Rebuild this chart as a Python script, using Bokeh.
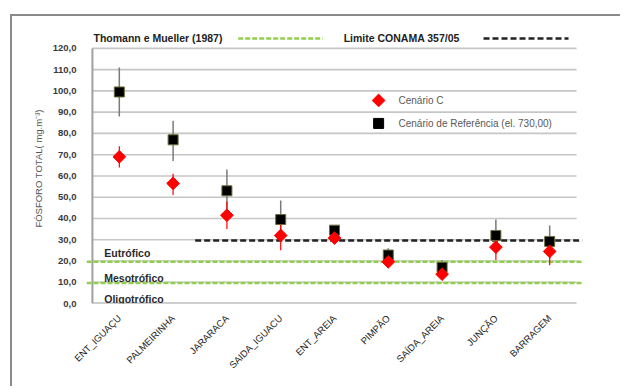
from math import pi

from bokeh.plotting import figure
from bokeh.models import FixedTicker, Range1d
from bokeh.core.properties import value
from bokeh.embed import file_html
from bokeh.resources import INLINE

# Sampling stations along the reservoir
stations = ["ENT_IGUAÇU", "PALMEIRINHA", "JARARACA", "SAIDA_IGUACU", "ENT_AREIA",
            "PIMPÃO", "SAÍDA_AREIA", "JUNÇÃO", "BARRAGEM"]

# Total phosphorus (mg.m-3): reference scenario (el. 730,00)
ref_mean = [99.5, 77.0, 53.0, 39.5, 34.5, 22.8, 17.0, 32.0, 29.2]
ref_low = [88.0, 67.0, 44.0, 31.0, 33.0, 20.0, 15.0, 24.0, 21.0]
ref_high = [111.0, 86.0, 63.0, 48.5, 36.0, 26.0, 20.5, 39.5, 36.7]

# Total phosphorus (mg.m-3): scenario C
c_mean = [69.0, 56.5, 41.5, 32.0, 30.8, 19.6, 13.8, 26.5, 24.5]
c_low = [64.0, 51.0, 35.0, 25.0, 30.0, 18.5, 12.5, 20.5, 18.0]
c_high = [74.0, 61.0, 48.0, 38.0, 32.0, 21.0, 15.0, 32.0, 29.0]

# Trophic thresholds (Thomann e Mueller, 1987) and CONAMA 357/05 limit
trophic_limits = [10.0, 20.0]
conama_limit = 30.0
trophic_names = ["Eutrófico", "Mesotrófico", "Oligotrófico"]
trophic_label_y = [23.7, 11.8, 1.9]

y_ticks = [0, 10, 20, 30, 40, 50, 60, 70, 80, 90, 100, 110, 120]

FONT = "Liberation Sans"
GRID = "#c6c6c6"
GREEN = "#92cf50"

xs = [i + 0.5 for i in range(len(stations))]

p = figure(width=610, height=372, output_backend="svg", toolbar_location=None,
           x_range=Range1d(-0.11, 9.11), y_range=Range1d(0, 127),
           min_border_left=74, min_border_right=40, min_border_top=17,
           min_border_bottom=85)
p.margin = (14, 0, 0, 10)
p.styles = {"border-left": "2px solid #8a8a8a", "border-top": "2px solid #8a8a8a"}
p.outline_line_color = None
p.xgrid.visible = False
p.ygrid.visible = False

# y axis
p.yaxis.ticker = FixedTicker(ticks=y_ticks)
p.yaxis.major_label_overrides = {t: f"{t:.1f}".replace(".", ",") for t in y_ticks}
p.yaxis.axis_line_color = None
p.yaxis.major_tick_line_color = None
p.yaxis.minor_tick_line_color = None
p.yaxis.major_label_standoff = 4
p.yaxis.major_label_text_font = FONT
p.yaxis.major_label_text_font_style = "bold"
p.yaxis.major_label_text_font_size = "9.5px"
p.yaxis.major_label_text_color = "#3a3a3a"
p.yaxis.axis_label = "FÓSFORO TOTAL( mg.m⁻³)"
p.yaxis.axis_label_text_font = FONT
p.yaxis.axis_label_text_font_style = "normal"
p.yaxis.axis_label_text_font_size = "9.5px"
p.yaxis.axis_label_text_color = "#555555"
p.yaxis.axis_label_standoff = 6

# x axis
p.xaxis.ticker = FixedTicker(ticks=xs)
p.xaxis.major_label_overrides = {x: s for x, s in zip(xs, stations)}
p.xaxis.major_label_orientation = pi / 4
p.xaxis.axis_line_color = None
p.xaxis.major_tick_line_color = None
p.xaxis.minor_tick_line_color = None
p.xaxis.major_label_standoff = 7
p.xaxis.major_label_text_font = FONT
p.xaxis.major_label_text_font_size = "9.5px"
p.xaxis.major_label_text_color = "#222222"

# horizontal gridlines and axis lines
grid_y = y_ticks[1:]
p.segment(x0=[0] * len(grid_y), x1=[9] * len(grid_y), y0=grid_y, y1=grid_y,
          line_color=GRID, line_width=1.6)
p.segment(x0=[0], x1=[0], y0=[0], y1=[120], line_color="#a0a0a0", line_width=2)
p.segment(x0=[0], x1=[9], y0=[0], y1=[0], line_color="#a0a0a0", line_width=2)

# reference lines
for lim in trophic_limits:
    p.line([-0.11, 9.11], [lim - 0.4, lim - 0.4], line_color=GREEN, line_width=2.5,
           line_dash="5 2")
p.line([1.91, 9.11], [conama_limit - 0.4, conama_limit - 0.4], line_color="#222222",
       line_width=2.5, line_dash="6 3")

# trophic state labels
p.text(x=[0.22] * 3, y=trophic_label_y, text=trophic_names, text_font=value(FONT),
       text_font_style="bold", text_font_size="10.5px", text_color="#2a2a2a",
       text_baseline="middle")

# error bars
p.segment(x0=xs, x1=xs, y0=ref_low, y1=ref_high, line_color="#7a7a7a", line_width=1.5)
p.segment(x0=xs, x1=xs, y0=c_low, y1=c_high, line_color="#ff0000", line_width=1.2)

# markers
p.scatter(xs, ref_mean, marker="square", size=10, fill_color="#000000",
          line_color="#6b6b3a", line_width=1)
p.scatter(xs, c_mean, marker="square", size=9, angle=pi / 4, fill_color="#ff0000",
          line_color="#ff0000")

# legend inside the plot area
p.scatter([5.32], [95.5], marker="square", size=9, angle=pi / 4, fill_color="#ff0000",
          line_color="#ff0000")
p.scatter([5.32], [84.7], marker="square", size=10, fill_color="#000000",
          line_color="#000000")
p.text(x=[5.69, 5.69], y=[95.5, 84.7],
       text=["Cenário C", "Cenário de Referência (el. 730,00)"],
       text_font=value(FONT), text_font_size="10px", text_color="#595959",
       text_baseline="middle")

# legend for reference lines above the data
p.text(x=[0.02, 4.67], y=[124.7, 124.7],
       text=["Thomann e Mueller (1987)", "Limite CONAMA 357/05"],
       text_font=value(FONT), text_font_style="bold", text_font_size="10.5px",
       text_color="#222222", text_baseline="middle")
p.line([2.71, 4.28], [124.7, 124.7], line_color=GREEN, line_width=2.5, line_dash="5 2")
p.line([7.27, 8.85], [124.7, 124.7], line_color="#222222", line_width=2.5,
       line_dash="6 3")

open("out.html", "w").write(file_html(p, INLINE))
